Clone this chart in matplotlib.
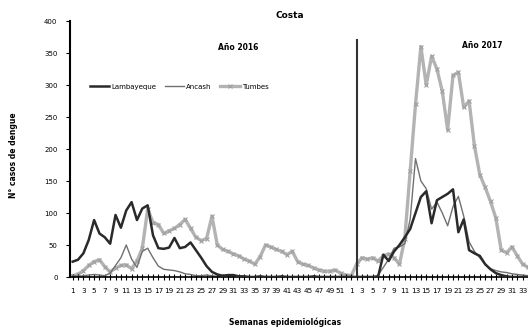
import matplotlib
matplotlib.use("Agg")
import matplotlib.pyplot as plt
import numpy as np

weeks_2016 = list(range(1, 53))
weeks_2017 = list(range(1, 35))

lambayeque_2016 = [24, 27, 37, 58, 89, 68, 62, 52, 97, 77, 104, 117, 89, 107, 112, 65,
                   45, 44, 46, 61, 45, 47, 54, 42, 30, 17, 8, 4, 2, 3, 3, 1,
                   1, 0, 0, 1, 0, 0, 0, 1, 0, 0, 0, 0, 0, 1, 0, 0, 0, 0, 0, 0]
ancash_2016 = [2, 1, 2, 3, 4, 3, 2, 6, 18, 30, 50, 28, 15, 40, 45, 30,
               17, 12, 11, 10, 8, 5, 4, 2, 2, 3, 2, 1, 0, 0, 0, 0,
               0, 0, 0, 0, 0, 0, 0, 0, 0, 0, 0, 0, 0, 0, 0, 0, 0, 0, 0, 0]
tumbes_2016 = [2, 4, 10, 18, 24, 27, 16, 8, 14, 18, 19, 13, 25, 45, 106, 85,
               82, 68, 72, 76, 82, 90, 76, 62, 57, 60, 95, 50, 43, 40, 36, 33,
               28, 25, 20, 32, 50, 47, 43, 40, 35, 40, 24, 20, 18, 14, 11, 9,
               9, 11, 6, 3]

lambayeque_2017 = [0, 0, 0, 0, 0, 0, 35, 25, 40, 50, 62, 75, 100, 125, 134, 84,
                   120, 125, 130, 137, 70, 90, 42, 37, 33, 20, 12, 6, 3, 1, 0, 0, 0, 0]
ancash_2017 = [0, 0, 0, 0, 0, 3, 15, 28, 45, 47, 52, 90, 185, 150, 138, 106,
               117, 100, 80, 110, 126, 95, 55, 40, 30, 20, 13, 10, 8, 7, 5, 4, 3, 2]
tumbes_2017 = [2, 20, 30, 28, 30, 25, 33, 36, 30, 20, 60, 165, 270, 360, 300, 345,
               325, 290, 230, 315, 320, 265, 275, 205, 160, 140, 118, 92, 42, 38,
               47, 33, 20, 15]

series_names = ["Lambayeque", "Ancash", "Tumbes"]

lamb = lambayeque_2016 + lambayeque_2017
anc = ancash_2016 + ancash_2017
tum = tumbes_2016 + tumbes_2017
week_labels = weeks_2016 + weeks_2017
idx = np.arange(1, len(week_labels) + 1)

fig = plt.figure(figsize=(5.28, 3.32), dpi=100)
ax = fig.add_axes([70/528, 1 - 277/332, 1 - 70/528, (277 - 21)/332])

ax.plot(idx, lamb, color="#2a2a2a", lw=1.8, label=series_names[0], zorder=3)
ax.plot(idx, anc, color="#707070", lw=1.0, label=series_names[1], zorder=2)
ax.plot(idx, tum, color="#b3b3b3", lw=2.4, marker="x", ms=3, mew=0.8,
        mec="#a0a0a0", label=series_names[2], zorder=1)

ax.set_ylim(0, 400)
ax.set_xlim(0.5, 85.3)
ax.set_yticks(np.arange(0, 401, 50))
ax.set_xticks(idx)
ax.set_xticklabels([str(w) if i % 2 == 0 else "" for i, w in enumerate(week_labels)])
ax.tick_params(axis="x", direction="inout", length=4, width=0.8, labelsize=5.2,
               pad=6, colors="black")
ax.tick_params(axis="y", direction="out", length=3, width=0.8, labelsize=5, pad=6)

for s in ["top", "right"]:
    ax.spines[s].set_visible(False)
ax.spines["left"].set_linewidth(1.5)
ax.spines["bottom"].set_linewidth(1.2)

div_x = len(weeks_2016) + 2
ax.axvline(div_x, ymin=0, ymax=370/400, color="#333333", lw=1.5)

ax.legend(loc="upper left", bbox_to_anchor=(0.03, 0.78), ncol=3, frameon=False,
          fontsize=5, handlelength=2.8, columnspacing=1.2, handletextpad=0.3)

fig.text(290/528, 1 - 15/332, "Costa", ha="center", va="center", fontsize=6.5,
         fontweight="bold")
fig.text(238/528, 1 - 47/332, "Año 2016", ha="center", va="center", fontsize=5.5,
         fontweight="bold")
fig.text(482/528, 1 - 45/332, "Año 2017", ha="center", va="center", fontsize=5.5,
         fontweight="bold")
fig.text(285/528, 1 - 322/332, "Semanas epidemiológicas", ha="center", va="center",
         fontsize=5.5, fontweight="bold")
fig.text(14/528, 1 - 155/332, "N° casos de dengue", ha="center", va="center",
         rotation=90, fontsize=5.5, fontweight="bold")

fig.savefig("out.png", dpi=100)
